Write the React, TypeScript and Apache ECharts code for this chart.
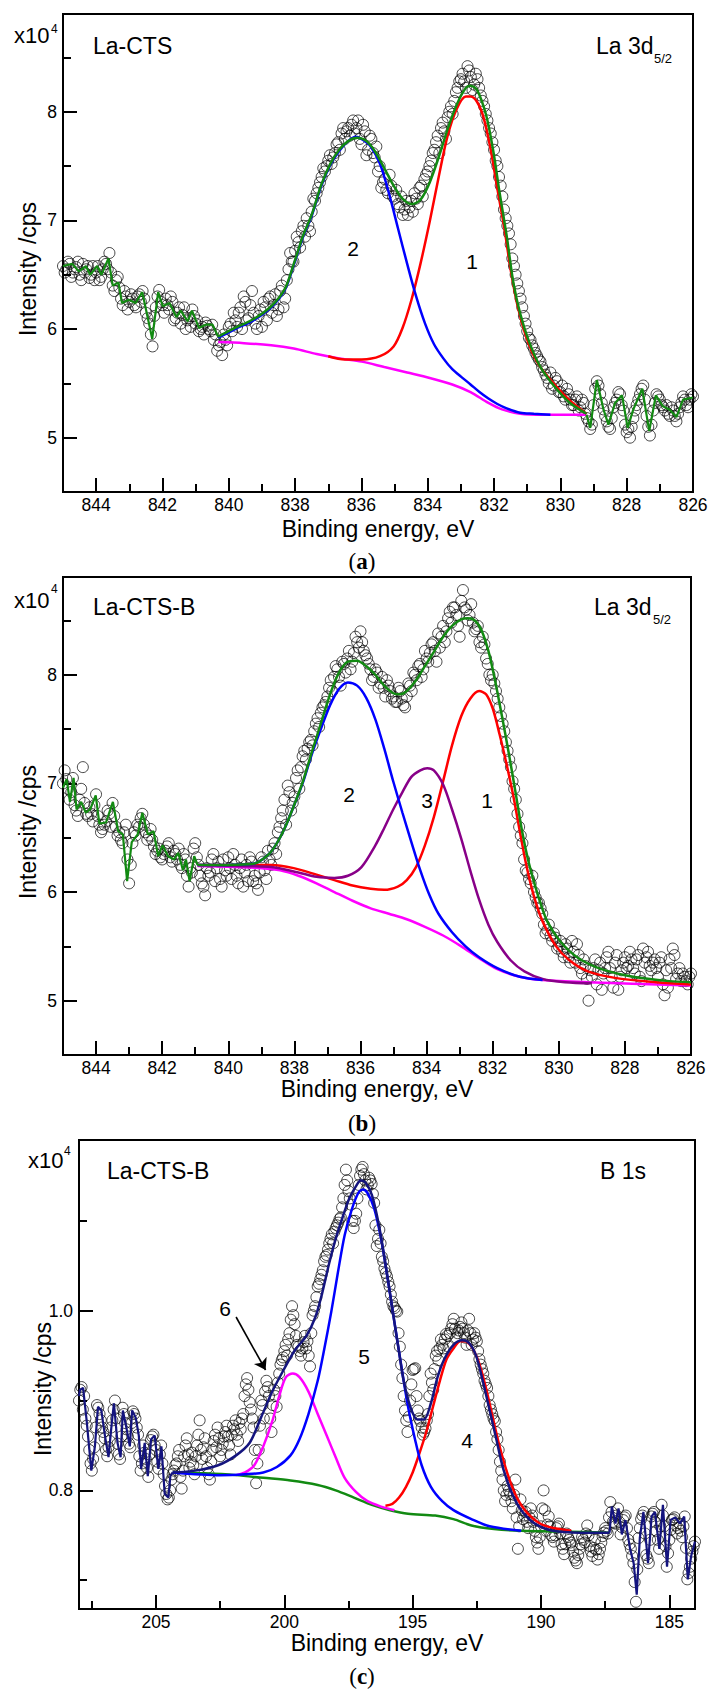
import React, { useEffect, useRef } from 'react';
import * as echarts from 'echarts';

// ---------------- data (values in units of 10^4 cps, energies in eV) ----------------
const STEP = 0.1;
const A_X0 = 845;
const A_X0_HALF = 844.95;
const B_X0 = 845;
const B_X0_HALF = 844.95;
const C_X0 = 208;
const C_X0_HALF = 207.95;

// Panel (a) La-CTS, La 3d5/2 — measured points (open circles), 845 -> 826 eV every 0.1 eV
const A_DATA = [
  6.58, 6.55, 6.60, 6.52, 6.57, 6.50, 6.60, 6.55, 6.47, 6.58,
  6.52, 6.45, 6.55, 6.60, 6.70, 6.40, 6.45, 6.38, 6.22, 6.30,
  6.25, 6.28, 6.20, 6.32, 6.35, 6.15, 6.05, 5.84, 6.20, 6.36,
  6.22, 6.28, 6.18, 6.25, 6.10, 6.20, 6.13, 6.00, 6.10, 6.18,
  6.05, 5.98, 6.02, 6.06, 6.00, 6.04, 5.95, 5.85, 5.76, 5.90,
  6.02, 5.98, 6.08, 6.15, 6.00, 6.25, 6.10, 6.35, 6.05, 6.12,
  6.02, 6.20, 6.28, 6.15, 6.32, 6.18, 6.40, 6.28, 6.55, 6.62,
  6.72, 6.80, 6.90, 6.85, 6.95, 7.08, 7.18, 7.30, 7.40, 7.45,
  7.55, 7.52, 7.62, 7.72, 7.80, 7.75, 7.85, 7.88, 7.80, 7.92,
  7.70, 7.82, 7.65, 7.75, 7.58, 7.45, 7.30, 7.38, 7.25, 7.32,
  7.20, 7.15, 7.22, 7.10, 7.05, 7.18, 7.25, 7.15, 7.32, 7.38,
  7.45, 7.55, 7.65, 7.78, 7.85, 7.82, 7.95, 8.05, 8.10, 8.22,
  8.30, 8.28, 8.42, 8.32, 8.25, 8.30, 8.15, 8.05, 7.92, 7.80,
  7.65, 7.50, 7.32, 7.10, 6.95, 6.78, 6.58, 6.42, 6.28, 6.12,
  5.98, 5.90, 5.82, 5.75, 5.70, 5.62, 5.55, 5.60, 5.48, 5.52,
  5.42, 5.38, 5.45, 5.35, 5.30, 5.38, 5.28, 5.32, 5.18, 5.08,
  5.30, 5.52, 5.40, 5.26, 5.15, 5.08, 5.28, 5.35, 5.40, 5.25,
  5.05, 5.00, 5.18, 5.30, 5.40, 5.48, 5.20, 5.02, 5.25, 5.40,
  5.35, 5.28, 5.30, 5.20, 5.25, 5.15, 5.28, 5.38, 5.30, 5.35,
  5.38,
];
// the interleaved points, 844.95 -> 826.05 eV
const A_DATA_HALF = [
  6.52, 6.62, 6.48, 6.55, 6.62, 6.45, 6.52, 6.58, 6.50, 6.45,
  6.58, 6.48, 6.62, 6.55, 6.52, 6.35, 6.48, 6.28, 6.35, 6.18,
  6.32, 6.22, 6.30, 6.25, 6.28, 6.10, 5.95, 6.12, 6.30, 6.25,
  6.15, 6.22, 6.30, 6.08, 6.15, 6.05, 6.20, 6.08, 6.02, 6.12,
  6.08, 6.00, 5.95, 6.03, 5.98, 5.90, 5.80, 5.88, 5.95, 5.85,
  6.05, 6.15, 6.02, 6.20, 6.30, 6.08, 6.22, 6.15, 6.00, 6.18,
  6.25, 6.08, 6.30, 6.22, 6.12, 6.35, 6.20, 6.45, 6.70, 6.62,
  6.85, 6.75, 6.95, 7.02, 6.90, 7.20, 7.25, 7.35, 7.48, 7.50,
  7.60, 7.58, 7.70, 7.65, 7.85, 7.82, 7.78, 7.92, 7.85, 7.75,
  7.88, 7.60, 7.78, 7.62, 7.68, 7.50, 7.35, 7.28, 7.42, 7.22,
  7.28, 7.12, 7.05, 7.18, 7.12, 7.08, 7.20, 7.30, 7.22, 7.42,
  7.50, 7.62, 7.72, 7.62, 7.90, 7.75, 8.00, 7.98, 8.18, 8.28,
  8.35, 8.22, 8.38, 8.20, 8.35, 8.22, 8.10, 7.98, 7.85, 7.72,
  7.55, 7.40, 7.22, 7.02, 6.88, 6.65, 6.50, 6.35, 6.20, 6.05,
  5.92, 5.85, 5.78, 5.72, 5.65, 5.58, 5.50, 5.45, 5.55, 5.42,
  5.48, 5.35, 5.40, 5.30, 5.35, 5.25, 5.35, 5.22, 5.15, 5.12,
  5.45, 5.48, 5.32, 5.20, 5.10, 5.18, 5.32, 5.42, 5.30, 5.12,
  5.08, 5.10, 5.25, 5.35, 5.45, 5.35, 5.10, 5.12, 5.32, 5.38,
  5.30, 5.25, 5.22, 5.28, 5.20, 5.22, 5.32, 5.35, 5.28, 5.40,
];
const A_ENV = [
  [840.32, 5.93], [839.81, 6.01], [839.26, 6.09], [838.72, 6.21], [838.31, 6.37], [838.04, 6.60],
  [837.76, 6.86], [837.49, 7.06], [837.22, 7.32], [836.94, 7.52], [836.67, 7.65], [836.40, 7.73],
  [836.13, 7.76], [835.85, 7.73], [835.58, 7.63], [835.31, 7.48], [835.03, 7.32], [834.76, 7.20],
  [834.49, 7.15], [834.22, 7.19], [833.94, 7.35], [833.67, 7.58], [833.40, 7.84], [833.12, 8.07],
  [832.85, 8.22], [832.71, 8.24], [832.51, 8.20], [832.24, 7.97], [832.03, 7.65], [831.83, 7.25],
  [831.62, 6.86], [831.42, 6.43], [831.21, 6.14], [830.94, 5.88], [830.60, 5.65], [830.12, 5.45],
  [829.71, 5.32], [829.21, 5.22],
];
const A_GREEN_LEFT = [
  [845.0, 6.58], [844.72, 6.60], [844.52, 6.53], [844.31, 6.58], [844.18, 6.50], [843.97, 6.58],
  [843.84, 6.50], [843.63, 6.65], [843.50, 6.40], [843.33, 6.43], [843.22, 6.24], [843.02, 6.27],
  [842.81, 6.24], [842.61, 6.34], [842.47, 6.14], [842.31, 5.91], [842.13, 6.34], [841.99, 6.21],
  [841.79, 6.24], [841.58, 6.11], [841.45, 6.17], [841.24, 6.07], [841.11, 6.17], [840.90, 6.01],
  [840.70, 6.04], [840.49, 6.04], [840.32, 5.93],
];
const A_GREEN_RIGHT = [
  [829.21, 5.21], [829.10, 5.09], [828.90, 5.53], [828.70, 5.26], [828.55, 5.12], [828.35, 5.32],
  [828.14, 5.39], [827.97, 5.09], [827.80, 5.26], [827.53, 5.45], [827.32, 5.06], [827.12, 5.39],
  [826.91, 5.29], [826.71, 5.26], [826.50, 5.19], [826.30, 5.35], [826.0, 5.37],
];
const A_PEAK1 = [
  [837.0, 5.75], [836.5, 5.72], [835.99, 5.72], [835.44, 5.75], [835.03, 5.84], [834.76, 6.01],
  [834.49, 6.27], [834.22, 6.60], [833.94, 6.99], [833.67, 7.40], [833.40, 7.78], [833.12, 8.03],
  [832.85, 8.14], [832.71, 8.14], [832.51, 8.09], [832.31, 7.94], [832.10, 7.65], [831.90, 7.29],
  [831.69, 6.93], [831.49, 6.53], [831.28, 6.20], [831.01, 5.91], [830.67, 5.68], [830.12, 5.47],
  [829.71, 5.34], [829.21, 5.22],
];
const A_PEAK2 = [
  [840.32, 5.92], [839.81, 6.00], [839.26, 6.08], [838.72, 6.20], [838.31, 6.36], [838.04, 6.59],
  [837.76, 6.85], [837.49, 7.05], [837.22, 7.31], [836.94, 7.51], [836.67, 7.64], [836.40, 7.73],
  [836.17, 7.77], [835.95, 7.74], [835.72, 7.68], [835.44, 7.52], [835.17, 7.25], [834.90, 6.93],
  [834.62, 6.60], [834.35, 6.30], [834.08, 6.05], [833.81, 5.86], [833.53, 5.73], [833.26, 5.63],
  [832.99, 5.56], [832.71, 5.49], [832.44, 5.42], [832.17, 5.36], [831.90, 5.31], [831.62, 5.27],
  [831.21, 5.23], [830.80, 5.22], [830.30, 5.21],
];
const A_BG = [
  [840.32, 5.88], [839.54, 5.87], [838.72, 5.85], [838.04, 5.82], [837.35, 5.77], [836.67, 5.73],
  [835.99, 5.70], [835.31, 5.65], [834.62, 5.60], [833.94, 5.55], [833.26, 5.49], [832.71, 5.42],
  [832.17, 5.32], [831.76, 5.26], [831.21, 5.22], [830.53, 5.21], [829.21, 5.21],
];

// Panel (b) La-CTS-B, La 3d5/2
const B_DATA = [
  7.00, 7.04, 6.85, 7.05, 6.75, 6.85, 7.15, 6.72, 6.78, 6.65,
  6.90, 6.62, 6.58, 6.65, 6.72, 6.82, 6.60, 6.55, 6.45, 6.62,
  6.08, 6.45, 6.52, 6.60, 6.72, 6.55, 6.52, 6.48, 6.35, 6.40,
  6.30, 6.38, 6.45, 6.28, 6.35, 6.40, 6.22, 6.30, 6.05, 6.18,
  6.45, 6.25, 6.08, 5.97, 6.15, 6.30, 6.10, 6.28, 6.05, 6.20,
  6.32, 6.12, 6.25, 6.08, 6.30, 6.18, 6.10, 6.28, 6.15, 6.02,
  6.32, 6.20, 6.38, 6.25, 6.45, 6.55, 6.68, 6.85, 6.98, 6.75,
  6.88, 7.12, 7.15, 7.30, 7.32, 7.40, 7.48, 7.60, 7.65, 7.72,
  7.80, 7.95, 7.98, 8.05, 7.90, 8.10, 8.15, 8.05, 8.20, 8.30,
  8.40, 8.22, 8.15, 8.05, 7.98, 8.02, 7.92, 7.88, 7.95, 7.85,
  7.80, 7.75, 7.85, 7.72, 7.80, 7.90, 8.02, 7.95, 8.10, 8.05,
  8.15, 8.20, 8.30, 8.12, 8.25, 8.45, 8.40, 8.58, 8.62, 8.55,
  8.35, 8.78, 8.60, 8.55, 8.48, 8.42, 8.30, 8.35, 8.15, 8.00,
  8.00, 7.85, 7.70, 7.55, 7.38, 7.22, 7.02, 6.85, 6.60, 6.45,
  6.20, 6.12, 6.15, 5.95, 5.90, 5.80, 5.62, 5.70, 5.55, 5.58,
  5.50, 5.45, 5.52, 5.40, 5.55, 5.35, 5.42, 5.25, 5.32, 5.00,
  5.22, 5.38, 5.28, 5.10, 5.30, 5.45, 5.22, 5.35, 5.10, 5.28,
  5.40, 5.32, 5.38, 5.25, 5.42, 5.18, 5.35, 5.45, 5.28, 5.38,
  5.22, 5.40, 5.05, 5.12, 5.30, 5.42, 5.25, 5.18, 5.22, 5.15,
  5.25,
];
const B_DATA_HALF = [
  7.12, 6.95, 6.92, 6.80, 6.70, 6.95, 6.82, 6.70, 6.72, 6.80,
  6.70, 6.55, 6.62, 6.75, 6.60, 6.70, 6.52, 6.48, 6.55, 6.30,
  6.25, 6.55, 6.62, 6.68, 6.62, 6.48, 6.58, 6.42, 6.38, 6.32,
  6.35, 6.42, 6.32, 6.38, 6.30, 6.25, 6.35, 6.15, 6.22, 6.40,
  6.32, 6.15, 6.05, 6.22, 6.18, 6.35, 6.22, 6.12, 6.30, 6.15,
  6.22, 6.35, 6.15, 6.22, 6.05, 6.25, 6.32, 6.10, 6.08, 6.18,
  6.28, 6.12, 6.30, 6.40, 6.35, 6.60, 6.75, 6.62, 6.92, 6.82,
  7.05, 6.95, 7.25, 7.22, 7.38, 7.35, 7.55, 7.52, 7.70, 7.75,
  7.88, 7.85, 8.08, 7.98, 8.12, 8.02, 8.22, 8.12, 8.35, 8.25,
  8.30, 8.18, 8.10, 7.95, 8.05, 7.88, 7.98, 7.80, 7.90, 7.78,
  7.75, 7.88, 7.78, 7.70, 7.92, 7.85, 8.00, 8.08, 7.98, 8.22,
  8.12, 8.28, 8.22, 8.38, 8.35, 8.30, 8.52, 8.48, 8.62, 8.45,
  8.68, 8.62, 8.50, 8.65, 8.40, 8.45, 8.25, 8.28, 8.10, 7.95,
  7.92, 7.78, 7.62, 7.48, 7.30, 7.15, 6.95, 6.72, 6.52, 6.30,
  6.18, 6.08, 6.00, 5.90, 5.85, 5.70, 5.65, 5.60, 5.62, 5.48,
  5.55, 5.40, 5.48, 5.35, 5.45, 5.52, 5.30, 5.38, 5.20, 5.28,
  5.30, 5.15, 5.35, 5.25, 5.40, 5.30, 5.12, 5.42, 5.22, 5.35,
  5.30, 5.45, 5.30, 5.38, 5.22, 5.48, 5.40, 5.32, 5.35, 5.30,
  5.35, 5.15, 5.28, 5.38, 5.48, 5.20, 5.30, 5.25, 5.18, 5.22,
];
const B_ENV = [
  [840.93, 6.25], [840.07, 6.25], [839.25, 6.26], [838.84, 6.33], [838.57, 6.43], [838.29, 6.59],
  [838.02, 6.79], [837.74, 7.02], [837.47, 7.29], [837.20, 7.55], [836.92, 7.82], [836.65, 8.02],
  [836.38, 8.12], [836.10, 8.13], [835.83, 8.08], [835.55, 8.00], [835.28, 7.90], [835.01, 7.83],
  [834.80, 7.82], [834.60, 7.85], [834.32, 7.95], [834.05, 8.08], [833.78, 8.21], [833.50, 8.35],
  [833.23, 8.45], [832.95, 8.51], [832.75, 8.52], [832.54, 8.50], [832.34, 8.41], [832.13, 8.22],
  [831.93, 7.95], [831.72, 7.62], [831.52, 7.29], [831.31, 6.92], [831.11, 6.56], [830.90, 6.26],
  [830.63, 5.97], [830.35, 5.73], [829.94, 5.54], [829.40, 5.39], [828.71, 5.29], [827.75, 5.22],
  [826.66, 5.18], [826.0, 5.17],
];
const B_GREEN_LEFT = [
  [845.0, 6.96], [844.89, 7.04], [844.79, 6.83], [844.68, 7.05], [844.59, 6.76], [844.45, 6.83],
  [844.31, 6.73], [844.18, 6.76], [844.01, 6.89], [843.90, 6.63], [843.70, 6.64], [843.49, 6.83],
  [843.33, 6.56], [843.19, 6.53], [843.06, 6.10], [842.92, 6.46], [842.74, 6.53], [842.60, 6.73],
  [842.43, 6.53], [842.26, 6.56], [842.12, 6.33], [841.99, 6.43], [841.82, 6.33], [841.64, 6.30],
  [841.51, 6.36], [841.37, 6.20], [841.28, 6.30], [841.17, 6.10], [841.03, 6.33], [840.93, 6.25],
];
const B_PEAK1 = [
  [840.93, 6.25], [839.80, 6.25], [838.70, 6.25], [838.02, 6.22], [837.33, 6.16], [836.79, 6.11],
  [836.24, 6.06], [835.69, 6.03], [835.28, 6.02], [834.87, 6.05], [834.60, 6.11], [834.32, 6.23],
  [834.05, 6.43], [833.78, 6.69], [833.50, 7.02], [833.23, 7.35], [832.95, 7.62], [832.68, 7.78],
  [832.41, 7.85], [832.20, 7.82], [832.00, 7.69], [831.79, 7.45], [831.59, 7.19], [831.38, 6.89],
  [831.18, 6.56], [830.97, 6.23], [830.76, 5.97], [830.49, 5.73], [830.08, 5.50], [829.67, 5.37],
  [829.12, 5.27], [828.30, 5.21], [827.07, 5.17], [826.0, 5.15],
];
const B_PEAK2 = [
  [840.93, 6.25], [840.07, 6.25], [839.25, 6.26], [838.84, 6.33], [838.57, 6.43], [838.29, 6.59],
  [838.02, 6.79], [837.74, 7.01], [837.47, 7.27], [837.20, 7.50], [836.92, 7.72], [836.65, 7.87],
  [836.38, 7.93], [836.10, 7.90], [835.83, 7.79], [835.55, 7.59], [835.28, 7.32], [835.01, 7.02],
  [834.73, 6.73], [834.46, 6.46], [834.19, 6.20], [833.91, 5.97], [833.64, 5.80], [833.23, 5.63],
  [832.82, 5.50], [832.41, 5.40], [831.86, 5.30], [831.18, 5.22], [830.49, 5.19],
];
const B_PEAK3 = [
  [840.93, 6.25], [839.80, 6.24], [838.70, 6.23], [837.88, 6.18], [837.33, 6.14], [836.79, 6.13],
  [836.38, 6.15], [835.97, 6.23], [835.55, 6.43], [835.28, 6.59], [835.01, 6.76], [834.73, 6.92],
  [834.46, 7.06], [834.19, 7.12], [833.98, 7.14], [833.78, 7.12], [833.50, 6.99], [833.23, 6.76],
  [832.95, 6.49], [832.68, 6.20], [832.41, 5.93], [832.13, 5.70], [831.86, 5.54], [831.45, 5.37],
  [831.04, 5.27], [830.49, 5.20], [829.81, 5.17], [829.0, 5.16],
];
const B_BG = [
  [840.93, 6.24], [839.80, 6.23], [838.98, 6.22], [838.43, 6.20], [837.88, 6.15], [837.33, 6.08],
  [836.79, 6.00], [836.24, 5.92], [835.69, 5.85], [835.14, 5.80], [834.60, 5.75], [834.05, 5.68],
  [833.50, 5.60], [832.95, 5.50], [832.41, 5.39], [831.86, 5.29], [831.18, 5.22], [830.49, 5.19],
  [829.12, 5.17], [826.0, 5.14],
];

// Panel (c) La-CTS-B, B 1s — 208 -> 184 eV every 0.1 eV
const C_DATA = [
  0.900, 0.915, 0.905, 0.872, 0.845, 0.822, 0.848, 0.895, 0.885, 0.870,
  0.858, 0.838, 0.855, 0.878, 0.900, 0.852, 0.835, 0.892, 0.875, 0.860,
  0.848, 0.888, 0.880, 0.862, 0.822, 0.850, 0.835, 0.815, 0.856, 0.862,
  0.845, 0.824, 0.850, 0.818, 0.796, 0.792, 0.812, 0.822, 0.830, 0.845,
  0.802, 0.838, 0.858, 0.825, 0.842, 0.818, 0.850, 0.878, 0.835, 0.858,
  0.825, 0.812, 0.845, 0.862, 0.870, 0.838, 0.852, 0.865, 0.860, 0.840,
  0.872, 0.878, 0.855, 0.868, 0.885, 0.918, 0.912, 0.890, 0.870, 0.808,
  0.845, 0.900, 0.880, 0.922, 0.905, 0.865, 0.912, 0.893, 0.930, 0.945,
  0.955, 0.950, 0.975, 1.005, 0.985, 0.962, 0.955, 0.958, 0.972, 0.966,
  0.938, 0.995, 1.005, 1.027, 1.035, 1.045, 1.060, 1.068, 1.080, 1.075,
  1.092, 1.098, 1.104, 1.125, 1.157, 1.133, 1.118, 1.092, 1.108, 1.140,
  1.157, 1.152, 1.135, 1.148, 1.141, 1.120, 1.072, 1.090, 1.060, 1.047,
  1.038, 1.027, 1.010, 1.003, 0.999, 0.960, 0.925, 0.889, 0.865, 0.900,
  0.934, 0.936, 0.889, 0.877, 0.862, 0.869, 0.885, 0.930, 0.912, 0.950,
  0.945, 0.968, 0.958, 0.974, 0.960, 0.980, 0.991, 0.970, 0.978, 0.987,
  0.975, 0.962, 0.991, 0.962, 0.975, 0.966, 0.946, 0.935, 0.922, 0.914,
  0.895, 0.885, 0.877, 0.857, 0.832, 0.812, 0.788, 0.805, 0.796, 0.780,
  0.812, 0.735, 0.790, 0.768, 0.776, 0.758, 0.780, 0.765, 0.748, 0.735,
  0.760, 0.800, 0.755, 0.771, 0.750, 0.743, 0.758, 0.763, 0.740, 0.729,
  0.752, 0.745, 0.739, 0.725, 0.719, 0.735, 0.748, 0.742, 0.761, 0.738,
  0.727, 0.745, 0.723, 0.735, 0.749, 0.758, 0.752, 0.787, 0.765, 0.763,
  0.780, 0.751, 0.767, 0.772, 0.745, 0.735, 0.719, 0.676, 0.747, 0.768,
  0.776, 0.728, 0.719, 0.771, 0.776, 0.755, 0.735, 0.784, 0.760, 0.715,
  0.745, 0.767, 0.770, 0.752, 0.763, 0.748, 0.771, 0.701, 0.715, 0.732,
  0.743,
];
const C_DATA_HALF = [
  0.912, 0.890, 0.880, 0.860, 0.830, 0.835, 0.870, 0.892, 0.878, 0.865,
  0.845, 0.848, 0.870, 0.890, 0.880, 0.840, 0.860, 0.885, 0.868, 0.852,
  0.875, 0.885, 0.870, 0.838, 0.830, 0.842, 0.825, 0.840, 0.860, 0.850,
  0.832, 0.840, 0.830, 0.805, 0.790, 0.800, 0.818, 0.828, 0.838, 0.815,
  0.822, 0.850, 0.840, 0.832, 0.828, 0.838, 0.862, 0.845, 0.848, 0.838,
  0.818, 0.832, 0.855, 0.848, 0.858, 0.845, 0.860, 0.872, 0.850, 0.862,
  0.868, 0.862, 0.875, 0.880, 0.905, 0.925, 0.898, 0.880, 0.845, 0.830,
  0.872, 0.895, 0.910, 0.915, 0.880, 0.895, 0.905, 0.920, 0.940, 0.948,
  0.962, 0.968, 0.990, 0.995, 0.972, 0.960, 0.950, 0.965, 0.958, 0.950,
  0.975, 1.000, 1.015, 1.030, 1.040, 1.055, 1.062, 1.075, 1.085, 1.088,
  1.095, 1.102, 1.115, 1.140, 1.145, 1.125, 1.100, 1.100, 1.125, 1.150,
  1.160, 1.145, 1.140, 1.145, 1.130, 1.095, 1.080, 1.075, 1.055, 1.042,
  1.032, 1.018, 1.005, 1.000, 0.975, 0.940, 0.905, 0.878, 0.882, 0.918,
  0.935, 0.905, 0.880, 0.870, 0.865, 0.878, 0.905, 0.920, 0.935, 0.955,
  0.958, 0.962, 0.968, 0.972, 0.975, 0.985, 0.980, 0.975, 0.982, 0.980,
  0.970, 0.978, 0.975, 0.968, 0.970, 0.955, 0.940, 0.930, 0.918, 0.905,
  0.890, 0.880, 0.865, 0.845, 0.822, 0.800, 0.795, 0.800, 0.788, 0.795,
  0.770, 0.760, 0.778, 0.772, 0.765, 0.770, 0.772, 0.755, 0.742, 0.748,
  0.780, 0.778, 0.762, 0.760, 0.748, 0.750, 0.760, 0.752, 0.735, 0.740,
  0.748, 0.742, 0.732, 0.722, 0.728, 0.740, 0.745, 0.752, 0.750, 0.732,
  0.736, 0.734, 0.729, 0.742, 0.753, 0.755, 0.770, 0.776, 0.764, 0.772,
  0.765, 0.759, 0.770, 0.758, 0.740, 0.727, 0.698, 0.712, 0.758, 0.772,
  0.752, 0.724, 0.745, 0.774, 0.765, 0.745, 0.760, 0.772, 0.738, 0.730,
  0.756, 0.768, 0.761, 0.758, 0.755, 0.760, 0.736, 0.708, 0.724, 0.738,
];
const C_ENV = [
  [204.35, 0.820], [203.47, 0.822], [202.58, 0.828], [201.88, 0.839], [201.35, 0.853], [200.91, 0.881],
  [200.47, 0.910], [200.03, 0.934], [199.59, 0.956], [199.14, 0.972], [198.79, 0.993], [198.53, 1.019],
  [198.26, 1.052], [198.00, 1.080], [197.73, 1.104], [197.47, 1.125], [197.20, 1.139], [197.03, 1.145],
  [196.85, 1.143], [196.59, 1.129], [196.32, 1.096], [196.06, 1.052], [195.88, 1.019], [195.71, 0.987],
  [195.53, 0.954], [195.35, 0.922], [195.09, 0.893], [194.82, 0.879], [194.56, 0.879], [194.29, 0.897],
  [194.03, 0.926], [193.77, 0.946], [193.41, 0.962], [193.06, 0.967], [192.80, 0.964], [192.53, 0.950],
  [192.27, 0.922], [192.00, 0.889], [191.74, 0.857], [191.47, 0.824], [191.12, 0.796], [190.77, 0.778],
  [190.24, 0.763], [189.53, 0.755], [188.47, 0.753], [187.33, 0.753],
];
const C_NAVY_LEFT = [
  [208.0, 0.905], [207.96, 0.912], [207.84, 0.914], [207.70, 0.877], [207.52, 0.822], [207.38, 0.849],
  [207.26, 0.893], [207.13, 0.889], [206.99, 0.861], [206.85, 0.837], [206.73, 0.873], [206.64, 0.897],
  [206.50, 0.853], [206.38, 0.837], [206.29, 0.889], [206.15, 0.869], [206.02, 0.849], [205.93, 0.889],
  [205.79, 0.881], [205.67, 0.861], [205.58, 0.824], [205.44, 0.853], [205.32, 0.816], [205.19, 0.857],
  [205.05, 0.861], [204.91, 0.824], [204.79, 0.849], [204.66, 0.796], [204.52, 0.792], [204.44, 0.816],
  [204.35, 0.820],
];
const C_NAVY_RIGHT = [
  [187.33, 0.753], [187.24, 0.782], [187.10, 0.763], [186.98, 0.780], [186.85, 0.751], [186.71, 0.767],
  [186.53, 0.735], [186.39, 0.719], [186.27, 0.684], [186.15, 0.747], [186.01, 0.776], [185.83, 0.719],
  [185.69, 0.771], [185.56, 0.776], [185.39, 0.735], [185.25, 0.784], [185.09, 0.715], [184.95, 0.767],
  [184.77, 0.770], [184.59, 0.763], [184.42, 0.771], [184.28, 0.701], [184.15, 0.727], [184.0, 0.743],
];
const C_PEAK5 = [
  [204.35, 0.820], [202.50, 0.817], [201.53, 0.818], [200.82, 0.820], [200.29, 0.826], [199.76, 0.839],
  [199.41, 0.857], [199.06, 0.885], [198.70, 0.922], [198.44, 0.958], [198.17, 0.999], [197.91, 1.043],
  [197.65, 1.084], [197.38, 1.112], [197.12, 1.131], [196.94, 1.135], [196.76, 1.131], [196.50, 1.114],
  [196.23, 1.080], [195.97, 1.035], [195.71, 0.987], [195.44, 0.938], [195.18, 0.893], [194.91, 0.857],
  [194.65, 0.828], [194.29, 0.804], [193.85, 0.788], [193.41, 0.778], [192.71, 0.768], [192.00, 0.760],
  [190.77, 0.755],
];
const C_PEAK6 = [
  [201.88, 0.817], [201.53, 0.820], [201.17, 0.828], [200.82, 0.849], [200.47, 0.877], [200.20, 0.905],
  [199.94, 0.926], [199.67, 0.930], [199.41, 0.926], [199.06, 0.910], [198.70, 0.885], [198.35, 0.861],
  [198.00, 0.837], [197.65, 0.814], [197.20, 0.798], [196.76, 0.788], [196.23, 0.782], [195.71, 0.778],
];
const C_PEAK4 = [
  [196.06, 0.783], [195.79, 0.785], [195.53, 0.792], [195.26, 0.804], [195.00, 0.820], [194.74, 0.841],
  [194.47, 0.865], [194.21, 0.893], [193.94, 0.922], [193.68, 0.946], [193.41, 0.958], [193.15, 0.966],
  [192.97, 0.966], [192.71, 0.960], [192.44, 0.944], [192.18, 0.918], [191.91, 0.885], [191.65, 0.853],
  [191.30, 0.818], [190.94, 0.792], [190.50, 0.774], [189.88, 0.761], [188.82, 0.755],
];
const C_BG = [
  [204.35, 0.820], [203.11, 0.819], [201.88, 0.817], [200.82, 0.814], [199.76, 0.811], [198.70, 0.806],
  [198.00, 0.800], [197.29, 0.792], [196.59, 0.784], [195.88, 0.778], [195.18, 0.774], [194.12, 0.772],
  [193.41, 0.768], [192.71, 0.761], [191.83, 0.757], [190.77, 0.755], [189.00, 0.754], [187.33, 0.753],
];
const C_ARROW = [[201.88, 0.993], [200.73, 0.934]];

// axis ticks
const AB_X_MAJOR = [826, 828, 830, 832, 834, 836, 838, 840, 842, 844];
const AB_X_MINOR = [827, 829, 831, 833, 835, 837, 839, 841, 843];
const AB_Y_MAJOR = [5, 6, 7, 8];
const AB_Y_MINOR = [5.5, 6.5, 7.5, 8.5];
const C_X_MAJOR = [185, 190, 195, 200, 205];
const C_X_MINOR = [187.5, 192.5, 197.5, 202.5, 207.5];
const C_Y_MAJOR = [0.8, 1.0];
const C_Y_MINOR = [0.7, 0.9, 1.1];

// ---------------- styling ----------------
const SANS = '"Liberation Sans", Arial, sans-serif';
const SERIF = '"Liberation Serif", "Times New Roman", serif';
const GREEN = '#128a12';
const RED = '#ff0000';
const BLUE = '#0000ff';
const MAGENTA = '#ff00ff';
const PURPLE = '#880088';
const NAVY = '#14147e';

const toPairs = (x0: number, ys: number[]) =>
  ys.map((y, i) => [Math.round((x0 - i * STEP) * 100) / 100, y]);

function axisPair(dim: 'x' | 'y', grid: number, min: number, max: number, major: number[], minor: number[], fmt: (v: number) => string) {
  const common: any = {
    gridIndex: grid,
    type: 'value',
    min,
    max,
    inverse: dim === 'x',
    position: dim === 'x' ? 'bottom' : 'left',
    axisLine: { show: false },
    splitLine: { show: false },
    minorTick: { show: false },
    axisPointer: { show: false },
  };
  return [
    {
      ...common,
      axisTick: { show: true, inside: true, length: 14, lineStyle: { color: '#000', width: 2 }, customValues: major },
      axisLabel: {
        show: true,
        customValues: major,
        color: '#000',
        fontSize: 17.5,
        fontFamily: SANS,
        margin: dim === 'x' ? 4 : 6,
        formatter: (v: number) => fmt(v),
      },
    },
    {
      ...common,
      axisTick: { show: true, inside: true, length: 8, lineStyle: { color: '#000', width: 2 }, customValues: minor },
      axisLabel: { show: false },
    },
  ];
}

const line = (data: number[][], color: string, idx: number, smooth: number | boolean, width = 2.5, z = 3) => ({
  type: 'line',
  xAxisIndex: idx,
  yAxisIndex: idx,
  data,
  smooth,
  symbol: 'none',
  showSymbol: false,
  silent: true,
  z,
  lineStyle: { color, width },
});

const scatter = (data: number[][], idx: number, extra: any = {}) => ({
  type: 'scatter',
  xAxisIndex: idx,
  yAxisIndex: idx,
  data,
  symbol: 'circle',
  symbolSize: 11,
  silent: true,
  z: 2,
  itemStyle: { color: 'rgba(0,0,0,0)', borderColor: '#000', borderWidth: 0.9 },
  ...extra,
});

const txt = (text: string, x: number, y: number, size: number, align = 'left', extra: any = {}) => ({
  type: 'text',
  x,
  y,
  silent: true,
  z: 20,
  ...extra,
  style: {
    text,
    fill: '#000',
    fontSize: size,
    fontFamily: SANS,
    textAlign: align,
    textVerticalAlign: 'middle',
  },
});

const caption = (letter: string, x: number, y: number) => ({
  type: 'text',
  x,
  y,
  silent: true,
  z: 20,
  style: {
    text: `{n|(}{b|${letter}}{n|)}`,
    textAlign: 'center',
    textVerticalAlign: 'middle',
    fill: '#000',
    rich: {
      n: { fontFamily: SERIF, fontSize: 23, fill: '#000' },
      b: { fontFamily: SERIF, fontSize: 23, fontWeight: 'bold', fill: '#000' },
    },
  },
});

function buildOption() {
  const intFmt = (v: number) => String(Math.round(v));
  const decFmt = (v: number) => v.toFixed(1);
  const gridBase = { show: true, borderColor: '#000', borderWidth: 2, backgroundColor: 'transparent', containLabel: false, outerBoundsMode: 'none' };

  const xAxis = [
    ...axisPair('x', 0, 826, 845, AB_X_MAJOR, AB_X_MINOR, intFmt),
    ...axisPair('x', 1, 826, 845, AB_X_MAJOR, AB_X_MINOR, intFmt),
    ...axisPair('x', 2, 184, 208, C_X_MAJOR, C_X_MINOR, intFmt),
  ];
  const yAxis = [
    ...axisPair('y', 0, 4.5, 8.9, AB_Y_MAJOR, AB_Y_MINOR, intFmt),
    ...axisPair('y', 1, 4.5, 8.9, AB_Y_MAJOR, AB_Y_MINOR, intFmt),
    ...axisPair('y', 2, 0.668, 1.19, C_Y_MAJOR, C_Y_MINOR, decFmt),
  ];

  const series: any[] = [
    // panel a
    scatter(toPairs(A_X0, A_DATA), 0),
    scatter(toPairs(A_X0_HALF, A_DATA_HALF), 0),
    line(A_BG, MAGENTA, 0, 0.3),
    line(A_PEAK1, RED, 0, 0.3),
    line(A_PEAK2, BLUE, 0, 0.3),
    line(A_ENV, GREEN, 0, 0.3, 2.5, 4),
    line(A_GREEN_LEFT, GREEN, 0, false, 2.2, 4),
    line(A_GREEN_RIGHT, GREEN, 0, false, 2.2, 4),
    // panel b
    scatter(toPairs(B_X0, B_DATA), 2),
    scatter(toPairs(B_X0_HALF, B_DATA_HALF), 2),
    line(B_BG, MAGENTA, 2, 0.3),
    line(B_PEAK1, RED, 2, 0.3),
    line(B_PEAK3, PURPLE, 2, 0.3),
    line(B_PEAK2, BLUE, 2, 0.3),
    line(B_ENV, GREEN, 2, 0.3, 2.5, 4),
    line(B_GREEN_LEFT, GREEN, 2, false, 2.2, 4),
    // panel c
    scatter(toPairs(C_X0, C_DATA), 4, {
      markLine: {
        silent: true,
        symbol: ['none', 'arrow'],
        symbolSize: 11,
        label: { show: false },
        lineStyle: { color: '#000', width: 1.6, type: 'solid' },
        data: [[{ coord: C_ARROW[0] }, { coord: C_ARROW[1] }]],
      },
    }),
    scatter(toPairs(C_X0_HALF, C_DATA_HALF), 4),
    line(C_BG, GREEN, 4, 0.3),
    line(C_PEAK6, MAGENTA, 4, 0.3),
    line(C_PEAK4, RED, 4, 0.3),
    line(C_PEAK5, BLUE, 4, 0.3),
    line(C_ENV, NAVY, 4, 0.3, 2.5, 4),
    line(C_NAVY_LEFT, NAVY, 4, false, 2.2, 4),
    line(C_NAVY_RIGHT, NAVY, 4, false, 2.2, 4),
  ];

  const graphic: any[] = [
    // panel a
    txt('x10', 14, 35, 22),
    txt('4', 51, 29, 12),
    txt('La-CTS', 93, 45.5, 23),
    txt('La 3d', 596, 46, 23),
    txt('5/2', 654, 58, 13),
    txt('2', 353, 248, 21, 'center'),
    txt('1', 472, 261, 21, 'center'),
    txt('Intensity /cps', 28, 269, 23, 'center', { rotation: Math.PI / 2 }),
    txt('Binding energy, eV', 378, 529, 23, 'center'),
    caption('a', 362, 561),
    // panel b
    txt('x10', 14, 600, 22),
    txt('4', 51, 589, 12),
    txt('La-CTS-B', 93, 607, 23),
    txt('La 3d', 594, 607, 23),
    txt('5/2', 653, 619, 13),
    txt('2', 349, 794, 21, 'center'),
    txt('3', 427, 800, 21, 'center'),
    txt('1', 487, 800, 21, 'center'),
    txt('Intensity /cps', 28, 832, 23, 'center', { rotation: Math.PI / 2 }),
    txt('Binding energy, eV', 377, 1089, 23, 'center'),
    caption('b', 362, 1123),
    // panel c
    txt('x10', 28, 1160, 22),
    txt('4', 64, 1151, 12),
    txt('La-CTS-B', 107, 1171, 23),
    txt('B 1s', 600, 1171, 23),
    txt('6', 225, 1308, 21, 'center'),
    txt('5', 364, 1356, 21, 'center'),
    txt('4', 467, 1440, 21, 'center'),
    txt('Intensity /cps', 43, 1389, 23, 'center', { rotation: Math.PI / 2 }),
    txt('Binding energy, eV', 387, 1643, 23, 'center'),
    caption('c', 362, 1676),
  ];

  return {
    animation: false,
    backgroundColor: '#ffffff',
    grid: [
      { ...gridBase, left: 63, top: 14, width: 630, height: 478 },
      { ...gridBase, left: 63, top: 577, width: 628, height: 478 },
      { ...gridBase, left: 79, top: 1140, width: 616, height: 469 },
    ],
    xAxis,
    yAxis,
    series,
    graphic,
  };
}

export default function App() {
  const ref = useRef<HTMLDivElement>(null);
  useEffect(() => {
    if (!ref.current) return;
    const chart = echarts.init(ref.current, undefined, { renderer: 'svg', width: 710, height: 1690 });
    chart.setOption(buildOption() as any);
    return () => chart.dispose();
  }, []);
  return (
    <div
      ref={ref}
      style={{ position: 'absolute', left: 0, top: 0, width: 710, height: 1690, background: '#fff' }}
    />
  );
}
